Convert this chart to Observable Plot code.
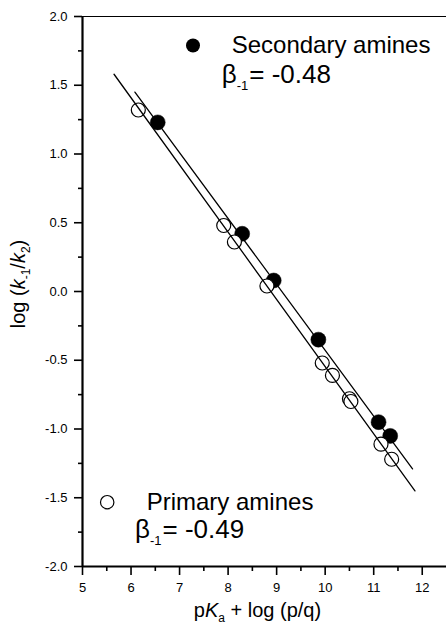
<!DOCTYPE html>
<html>
<head>
<meta charset="utf-8">
<script src="https://cdn.jsdelivr.net/npm/d3@7"></script>
<script src="https://cdn.jsdelivr.net/npm/@observablehq/plot@0.6"></script>
<style>
  html, body { margin: 0; padding: 0; background: #fff; }
  #chart svg { display: block; }
  #chart svg g[aria-label$="tick"] path { stroke-width: 1.6px; }
</style>
</head>
<body>
<div id="chart"></div>
<script>
// Secondary amines (filled circles)
const secondaryX = [6.55, 8.29, 8.94, 9.86, 11.10, 11.34];
const secondaryY = [1.23, 0.42, 0.08, -0.35, -0.95, -1.05];
// Primary amines (open circles)
const primaryX = [6.15, 7.91, 8.13, 8.80, 9.94, 10.15, 10.50, 10.53, 11.15, 11.37];
const primaryY = [1.32, 0.48, 0.36, 0.04, -0.52, -0.61, -0.78, -0.80, -1.11, -1.22];
// Fitted line end points
const secondaryFitX = [6.08, 11.80];
const secondaryFitY = [1.45, -1.29];
const primaryFitX = [5.65, 11.85];
const primaryFitY = [1.58, -1.45];
// Ticks
const xMajor = [5, 6, 7, 8, 9, 10, 11, 12];
const xMinor = [5.5, 6.5, 7.5, 8.5, 9.5, 10.5, 11.5];
const yMajor = [-2.0, -1.5, -1.0, -0.5, 0.0, 0.5, 1.0, 1.5, 2.0];
const yMinor = [-1.75, -1.25, -0.75, -0.25, 0.25, 0.75, 1.25, 1.75];

const secondary = secondaryX.map((x, i) => ({x, y: secondaryY[i]}));
const primary = primaryX.map((x, i) => ({x, y: primaryY[i]}));
const secondaryFit = secondaryFitX.map((x, i) => ({x, y: secondaryFitY[i]}));
const primaryFit = primaryFitX.map((x, i) => ({x, y: primaryFitY[i]}));

const FONT = "'Liberation Sans', Arial, Helvetica, sans-serif";
const W = 446, H = 630, ML = 82, MR = 0, MT = 16, MB = 64;
const FW = W - ML - MR, FH = H - MT - MB;

const plot = Plot.plot({
  width: W,
  height: H,
  marginLeft: ML,
  marginRight: MR,
  marginTop: MT,
  marginBottom: MB,
  x: {domain: [5, 12.5], ticks: xMajor, tickSize: 9, tickPadding: 7, tickFormat: d => String(d), label: null},
  y: {domain: [-2, 2], ticks: yMajor, tickSize: 8, tickPadding: 7, tickFormat: d => d.toFixed(1), label: null},
  style: {fontFamily: FONT, fontSize: "13px", color: "black", background: "white", overflow: "visible"},
  marks: [
    // minor ticks (outside the frame)
    Plot.tickX(xMinor, {x: d => d, insetTop: FH, insetBottom: -5, stroke: "black", strokeWidth: 1.6}),
    Plot.tickY(yMinor, {y: d => d, insetLeft: -4, insetRight: FW, stroke: "black", strokeWidth: 1.6}),
    Plot.ruleY([2], {stroke: "black", strokeWidth: 1}),
    Plot.ruleX([5], {stroke: "black", strokeWidth: 2.2}),
    Plot.ruleY([-2], {stroke: "black", strokeWidth: 2.2}),
    Plot.dot(secondary, {x: "x", y: "y", r: 7.5, fill: "black", stroke: "black", strokeWidth: 0.5}),
    Plot.dot(primary, {x: "x", y: "y", r: 7, fill: "white", stroke: "black", strokeWidth: 1.2}),
    Plot.line(secondaryFit, {x: "x", y: "y", stroke: "black", strokeWidth: 1.3}),
    Plot.line(primaryFit, {x: "x", y: "y", stroke: "black", strokeWidth: 1.3}),
    // legend symbols
    Plot.dot([0], {frameAnchor: "top-left", dx: 110.5, dy: 29, r: 7, fill: "black"}),
    Plot.dot([0], {frameAnchor: "top-left", dx: 24.7, dy: 485.7, r: 6.7, fill: "white", stroke: "black", strokeWidth: 1.2})
  ]
});

document.getElementById("chart").appendChild(plot);

const svg = d3.select(plot);
function rich(x, y, parts, opts = {}) {
  const t = svg.append("text")
    .attr("x", x).attr("y", y)
    .attr("font-family", FONT)
    .attr("font-size", opts.size || 18)
    .attr("fill", "black")
    .attr("text-anchor", opts.anchor || "start");
  if (opts.transform) t.attr("transform", opts.transform).attr("x", 0).attr("y", 0);
  for (const p of parts) {
    const s = t.append("tspan").text(p.t);
    if (p.italic) s.attr("font-style", "italic");
    if (p.size) s.attr("font-size", p.size);
    if (p.dy) s.attr("dy", p.dy);
    if (p.dx) s.attr("dx", p.dx);
  }
  return t;
}

// Axis titles
rich(0, 0, [
  {t: "log ("}, {t: "k", italic: true}, {t: "-1", size: 12, dy: 5}, {t: "/", dy: -5},
  {t: "k", italic: true}, {t: "2", size: 12, dy: 5}, {t: ")", dy: -5}
], {size: 20, anchor: "middle", transform: "translate(25,284) rotate(-90)"});

rich(257.5, 617, [
  {t: "p"}, {t: "K", italic: true}, {t: "a", size: 12, dy: 5}, {t: " + log (p/q)", dy: -5}
], {size: 20, anchor: "middle"});

// Legend texts
rich(231.7, 53, [{t: "Secondary amines"}], {size: 24});
rich(221.7, 83, [{t: "β"}, {t: "-1", size: 13, dy: 7}, {t: "= -0.48", dy: -7, dx: 1}], {size: 26});
rich(146.7, 510, [{t: "Primary amines"}], {size: 24});
rich(135, 538, [{t: "β"}, {t: "-1", size: 13, dy: 7}, {t: "= -0.49", dy: -7, dx: 1}], {size: 26});
</script>
</body>
</html>
